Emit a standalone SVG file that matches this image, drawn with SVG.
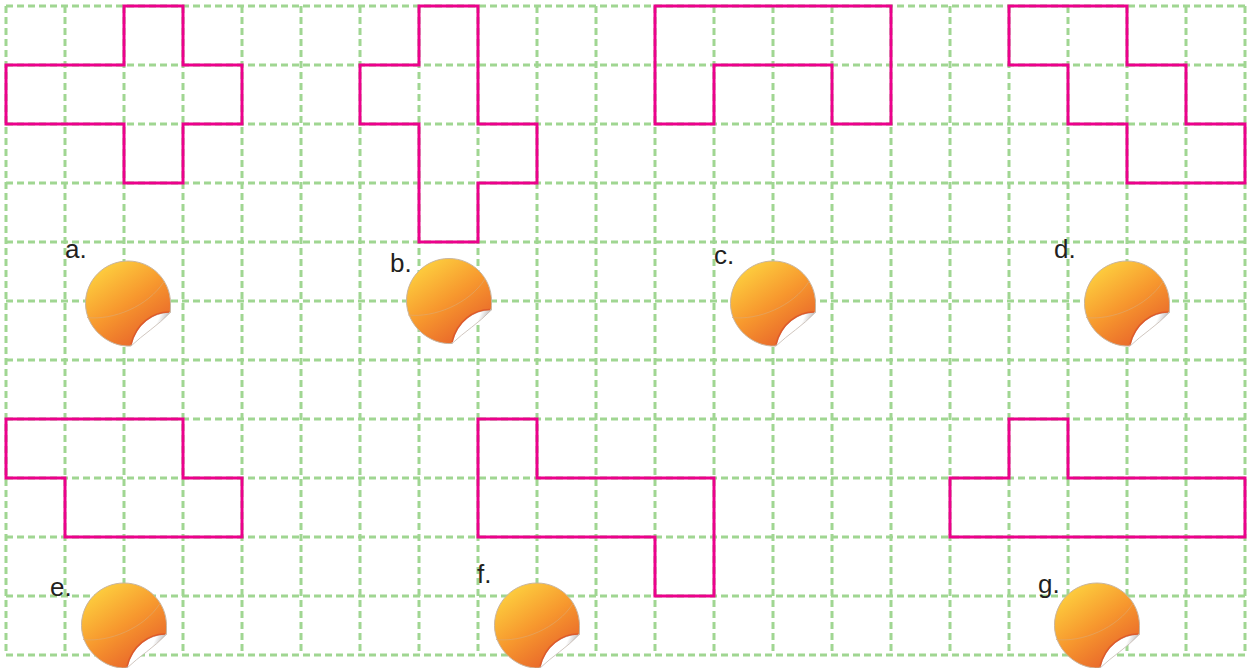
<svg xmlns="http://www.w3.org/2000/svg" width="1249" height="668" viewBox="0 0 1249 668">
<style>
.grid{fill:none;stroke:#a0d692;stroke-width:3;stroke-dasharray:7 4}
.shape{fill:none;stroke:#ec008c;stroke-width:3}
.lbl{font-family:"Liberation Sans",Arial,sans-serif;font-size:26px;fill:#231f20}
</style>
<defs>
<linearGradient id="og" gradientUnits="userSpaceOnUse" x1="-30" y1="-36" x2="22" y2="38">
<stop offset="0" stop-color="#fdd03f"/><stop offset=".5" stop-color="#f7982e"/><stop offset="1" stop-color="#e7622a"/>
</linearGradient>
<linearGradient id="fl" gradientUnits="userSpaceOnUse" x1="14" y1="24" x2="34" y2="32">
<stop offset="0" stop-color="#fff"/><stop offset=".55" stop-color="#fff"/><stop offset="1" stop-color="#b9b6b7"/>
</linearGradient>
<g id="sticker">
<path d="M42.3 9C25 9 8 20 3 42.5C-20 44-42.5 24-42.5 0C-42.5-24-23-42.5 0-42.5C24-42.5 42.5-23 42.5 0C42.5 3 42.5 6 42.3 9Z" fill="url(#og)" stroke="#c8b5a0" stroke-width="1"/>
<path d="M-41 14C-15 17 20 3 36-22" fill="none" stroke="#dfa76a" stroke-width="1" opacity=".7"/>
<path d="M42.3 9C25 9 8 20 3 42.5C15 31 30 22 42.3 9Z" fill="url(#fl)" stroke="#c4b8ae" stroke-width=".8"/>
<path d="M41 8.500C25 8.500 8 20 3 41" fill="none" stroke="#de5a2a" stroke-width="1.600"/>
</g>
</defs>
<g id="grid" class="grid">
<path d="M6 6H1245M6 65H1245M6 124H1245M6 183H1245M6 242H1245M6 301H1245M6 360H1245M6 419H1245M6 478H1245M6 537H1245M6 596H1245M6 655H1245"/>
<path d="M6 6V655M65 6V655M124 6V655M183 6V655M242 6V655M301 6V655M360 6V655M419 6V655M478 6V655M537 6V655M596 6V655M655 6V655M714 6V655M773 6V655M832 6V655M891 6V655M950 6V655M1009 6V655M1068 6V655M1127 6V655M1186 6V655M1245 6V655"/>
</g>
<g id="shape-a"><path class="shape" d="M124 6H183V65H242V124H183V183H124V124H6V65H124Z"/><text class="lbl" x="65" y="258">a.</text><use href="#sticker" x="128" y="303.500"/></g>
<g id="shape-b"><path class="shape" d="M419 6H478V124H537V183H478V242H419V124H360V65H419Z"/><text class="lbl" x="390" y="272">b.</text><use href="#sticker" x="449" y="301"/></g>
<g id="shape-c"><path class="shape" d="M655 6H891V124H832V65H714V124H655Z"/><text class="lbl" x="714" y="264">c.</text><use href="#sticker" x="773" y="303.500"/></g>
<g id="shape-d"><path class="shape" d="M1009 6H1127V65H1186V124H1245V183H1127V124H1068V65H1009Z"/><text class="lbl" x="1054" y="258">d.</text><use href="#sticker" x="1127" y="303.500"/></g>
<g id="shape-e"><path class="shape" d="M6 419H183V478H242V537H65V478H6Z"/><text class="lbl" x="50" y="596">e.</text><use href="#sticker" x="124" y="625.500"/></g>
<g id="shape-f"><path class="shape" d="M478 419H537V478H714V596H655V537H478Z"/><text class="lbl" x="477" y="583">f.</text><use href="#sticker" x="537" y="625.500"/></g>
<g id="shape-g"><path class="shape" d="M1009 419H1068V478H1245V537H950V478H1009Z"/><text class="lbl" x="1038" y="593">g.</text><use href="#sticker" x="1097" y="625.500"/></g>
</svg>
